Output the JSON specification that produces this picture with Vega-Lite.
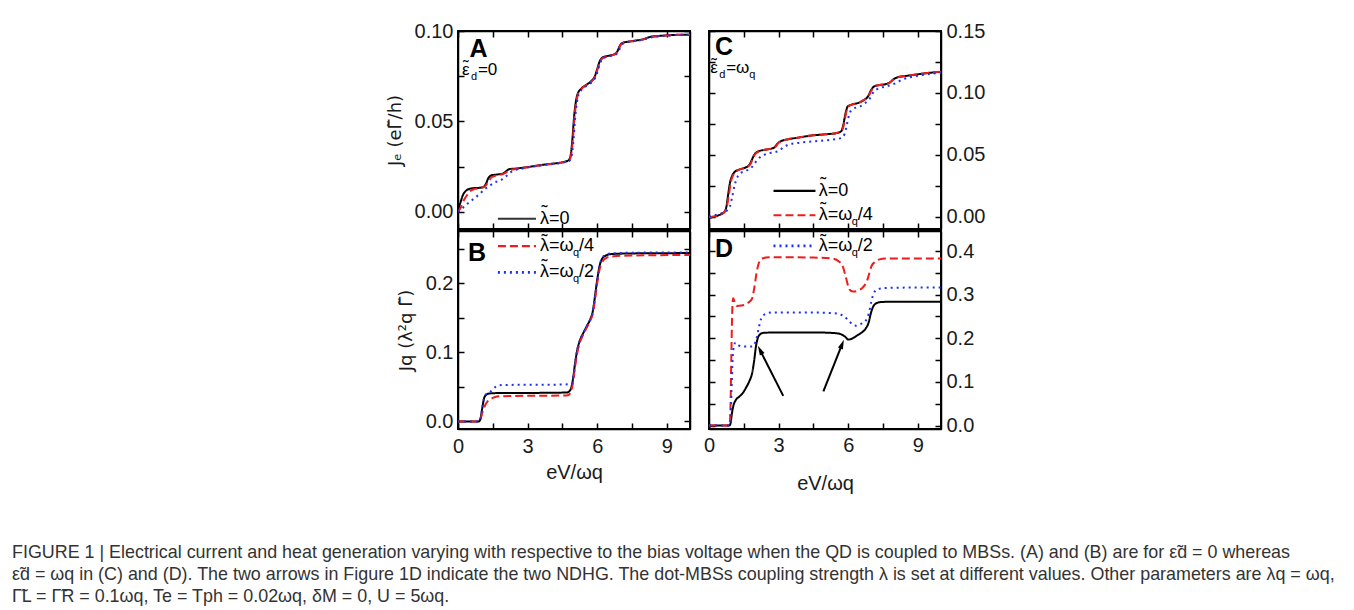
{
  "$schema": "https://vega.github.io/schema/vega-lite/v6.json",
  "padding": {"left": 12, "top": 20, "right": 0, "bottom": 0},
  "background": "white",
  "title": {
    "text": [
      "FIGURE 1 | Electrical current and heat generation varying with respective to the bias voltage when the QD is coupled to MBSs. (A) and (B) are for ε̃d = 0 whereas",
      "ε̃d = ωq in (C) and (D). The two arrows in Figure 1D indicate the two NDHG. The dot-MBSs coupling strength λ is set at different values. Other parameters are λq = ωq,",
      "Γ̃L = Γ̃R = 0.1ωq, Te = Tph = 0.02ωq, δM = 0, U = 5ωq."
    ],
    "orient": "bottom",
    "anchor": "start",
    "frame": "group",
    "font": "Liberation Sans",
    "fontSize": 17.9,
    "fontWeight": "normal",
    "color": "#333333",
    "lineHeight": 22,
    "offset": 50,
    "dx": -446
  },
  "datasets": {
    "one": [{}],
    "curves": [
      {"p":"A","s":"a","x":0,"y":0.001},{"p":"A","s":"a","x":0.1,"y":0.005},{"p":"A","s":"a","x":0.2,"y":0.009},{"p":"A","s":"a","x":0.35,"y":0.0118},{"p":"A","s":"a","x":0.5,"y":0.0128},{"p":"A","s":"a","x":0.7,"y":0.0132},{"p":"A","s":"a","x":0.95,"y":0.0134},{"p":"A","s":"a","x":1.1,"y":0.0138},{"p":"A","s":"a","x":1.2,"y":0.0155},{"p":"A","s":"a","x":1.32,"y":0.019},{"p":"A","s":"a","x":1.45,"y":0.0203},{"p":"A","s":"a","x":1.75,"y":0.0208},{"p":"A","s":"a","x":1.95,"y":0.0213},{"p":"A","s":"a","x":2.05,"y":0.0222},{"p":"A","s":"a","x":2.2,"y":0.0236},{"p":"A","s":"a","x":2.5,"y":0.024},{"p":"A","s":"a","x":3.0,"y":0.0248},{"p":"A","s":"a","x":3.5,"y":0.0258},{"p":"A","s":"a","x":4.0,"y":0.0266},{"p":"A","s":"a","x":4.5,"y":0.0275},{"p":"A","s":"a","x":4.76,"y":0.0285},{"p":"A","s":"a","x":4.85,"y":0.031},{"p":"A","s":"a","x":4.93,"y":0.04},{"p":"A","s":"a","x":5.0,"y":0.052},{"p":"A","s":"a","x":5.07,"y":0.06},{"p":"A","s":"a","x":5.15,"y":0.065},{"p":"A","s":"a","x":5.3,"y":0.068},{"p":"A","s":"a","x":5.5,"y":0.07},{"p":"A","s":"a","x":5.76,"y":0.0725},{"p":"A","s":"a","x":5.9,"y":0.075},{"p":"A","s":"a","x":6.0,"y":0.079},{"p":"A","s":"a","x":6.1,"y":0.083},{"p":"A","s":"a","x":6.25,"y":0.0855},{"p":"A","s":"a","x":6.45,"y":0.0862},{"p":"A","s":"a","x":6.75,"y":0.0872},{"p":"A","s":"a","x":6.88,"y":0.089},{"p":"A","s":"a","x":6.98,"y":0.092},{"p":"A","s":"a","x":7.1,"y":0.0935},{"p":"A","s":"a","x":7.3,"y":0.094},{"p":"A","s":"a","x":7.6,"y":0.0946},{"p":"A","s":"a","x":8.0,"y":0.0955},{"p":"A","s":"a","x":8.15,"y":0.0962},{"p":"A","s":"a","x":8.3,"y":0.0968},{"p":"A","s":"a","x":8.6,"y":0.0972},{"p":"A","s":"a","x":9.0,"y":0.0976},{"p":"A","s":"a","x":9.5,"y":0.0979},{"p":"A","s":"a","x":10,"y":0.098},
      {"p":"A","s":"b","x":0,"y":0},{"p":"A","s":"b","x":0.1,"y":0.002},{"p":"A","s":"b","x":0.25,"y":0.0065},{"p":"A","s":"b","x":0.4,"y":0.0095},{"p":"A","s":"b","x":0.55,"y":0.0118},{"p":"A","s":"b","x":0.75,"y":0.0128},{"p":"A","s":"b","x":0.95,"y":0.0132},{"p":"A","s":"b","x":1.15,"y":0.014},{"p":"A","s":"b","x":1.3,"y":0.0165},{"p":"A","s":"b","x":1.45,"y":0.0192},{"p":"A","s":"b","x":1.75,"y":0.0205},{"p":"A","s":"b","x":1.95,"y":0.021},{"p":"A","s":"b","x":2.1,"y":0.022},{"p":"A","s":"b","x":2.25,"y":0.0232},{"p":"A","s":"b","x":2.5,"y":0.0238},{"p":"A","s":"b","x":3.0,"y":0.0247},{"p":"A","s":"b","x":3.5,"y":0.0257},{"p":"A","s":"b","x":4.0,"y":0.0265},{"p":"A","s":"b","x":4.5,"y":0.0274},{"p":"A","s":"b","x":4.78,"y":0.0284},{"p":"A","s":"b","x":4.87,"y":0.031},{"p":"A","s":"b","x":4.95,"y":0.04},{"p":"A","s":"b","x":5.02,"y":0.052},{"p":"A","s":"b","x":5.09,"y":0.06},{"p":"A","s":"b","x":5.17,"y":0.065},{"p":"A","s":"b","x":5.3,"y":0.0678},{"p":"A","s":"b","x":5.5,"y":0.0698},{"p":"A","s":"b","x":5.78,"y":0.0724},{"p":"A","s":"b","x":5.92,"y":0.075},{"p":"A","s":"b","x":6.02,"y":0.079},{"p":"A","s":"b","x":6.12,"y":0.083},{"p":"A","s":"b","x":6.27,"y":0.0853},{"p":"A","s":"b","x":6.45,"y":0.086},{"p":"A","s":"b","x":6.75,"y":0.0871},{"p":"A","s":"b","x":6.9,"y":0.089},{"p":"A","s":"b","x":7.0,"y":0.092},{"p":"A","s":"b","x":7.12,"y":0.0934},{"p":"A","s":"b","x":7.3,"y":0.094},{"p":"A","s":"b","x":7.6,"y":0.0945},{"p":"A","s":"b","x":8.0,"y":0.0954},{"p":"A","s":"b","x":8.17,"y":0.0961},{"p":"A","s":"b","x":8.32,"y":0.0967},{"p":"A","s":"b","x":8.6,"y":0.0971},{"p":"A","s":"b","x":9.0,"y":0.0975},{"p":"A","s":"b","x":9.5,"y":0.0978},{"p":"A","s":"b","x":10,"y":0.098},
      {"p":"A","s":"c","x":0,"y":0},{"p":"A","s":"c","x":0.15,"y":0.0015},{"p":"A","s":"c","x":0.3,"y":0.0035},{"p":"A","s":"c","x":0.45,"y":0.005},{"p":"A","s":"c","x":0.6,"y":0.0065},{"p":"A","s":"c","x":0.75,"y":0.008},{"p":"A","s":"c","x":0.95,"y":0.0102},{"p":"A","s":"c","x":1.15,"y":0.0125},{"p":"A","s":"c","x":1.3,"y":0.014},{"p":"A","s":"c","x":1.45,"y":0.0153},{"p":"A","s":"c","x":1.65,"y":0.0167},{"p":"A","s":"c","x":1.9,"y":0.018},{"p":"A","s":"c","x":2.1,"y":0.02},{"p":"A","s":"c","x":2.25,"y":0.0218},{"p":"A","s":"c","x":2.45,"y":0.0232},{"p":"A","s":"c","x":2.7,"y":0.0238},{"p":"A","s":"c","x":3.0,"y":0.0246},{"p":"A","s":"c","x":3.5,"y":0.0256},{"p":"A","s":"c","x":4.0,"y":0.0264},{"p":"A","s":"c","x":4.5,"y":0.0273},{"p":"A","s":"c","x":4.8,"y":0.0283},{"p":"A","s":"c","x":4.9,"y":0.031},{"p":"A","s":"c","x":4.98,"y":0.04},{"p":"A","s":"c","x":5.05,"y":0.052},{"p":"A","s":"c","x":5.12,"y":0.06},{"p":"A","s":"c","x":5.2,"y":0.065},{"p":"A","s":"c","x":5.35,"y":0.0678},{"p":"A","s":"c","x":5.55,"y":0.0698},{"p":"A","s":"c","x":5.8,"y":0.0722},{"p":"A","s":"c","x":5.95,"y":0.075},{"p":"A","s":"c","x":6.05,"y":0.079},{"p":"A","s":"c","x":6.15,"y":0.083},{"p":"A","s":"c","x":6.3,"y":0.0852},{"p":"A","s":"c","x":6.5,"y":0.086},{"p":"A","s":"c","x":6.8,"y":0.087},{"p":"A","s":"c","x":6.93,"y":0.089},{"p":"A","s":"c","x":7.03,"y":0.092},{"p":"A","s":"c","x":7.15,"y":0.0933},{"p":"A","s":"c","x":7.35,"y":0.094},{"p":"A","s":"c","x":7.6,"y":0.0944},{"p":"A","s":"c","x":8.0,"y":0.0953},{"p":"A","s":"c","x":8.2,"y":0.096},{"p":"A","s":"c","x":8.35,"y":0.0966},{"p":"A","s":"c","x":8.6,"y":0.097},{"p":"A","s":"c","x":9.0,"y":0.0975},{"p":"A","s":"c","x":9.5,"y":0.0978},{"p":"A","s":"c","x":10,"y":0.098},

      {"p":"B","s":"a","x":0,"y":0},{"p":"B","s":"a","x":0.9,"y":0},{"p":"B","s":"a","x":0.97,"y":0.004},{"p":"B","s":"a","x":1.05,"y":0.02},{"p":"B","s":"a","x":1.12,"y":0.033},{"p":"B","s":"a","x":1.2,"y":0.038},{"p":"B","s":"a","x":1.35,"y":0.0405},{"p":"B","s":"a","x":1.6,"y":0.041},{"p":"B","s":"a","x":2.5,"y":0.0412},{"p":"B","s":"a","x":4.0,"y":0.0415},{"p":"B","s":"a","x":4.7,"y":0.042},{"p":"B","s":"a","x":4.85,"y":0.046},{"p":"B","s":"a","x":4.95,"y":0.06},{"p":"B","s":"a","x":5.05,"y":0.085},{"p":"B","s":"a","x":5.15,"y":0.105},{"p":"B","s":"a","x":5.25,"y":0.117},{"p":"B","s":"a","x":5.4,"y":0.128},{"p":"B","s":"a","x":5.55,"y":0.138},{"p":"B","s":"a","x":5.7,"y":0.148},{"p":"B","s":"a","x":5.8,"y":0.158},{"p":"B","s":"a","x":5.9,"y":0.18},{"p":"B","s":"a","x":6.0,"y":0.205},{"p":"B","s":"a","x":6.1,"y":0.225},{"p":"B","s":"a","x":6.2,"y":0.235},{"p":"B","s":"a","x":6.35,"y":0.24},{"p":"B","s":"a","x":6.6,"y":0.2425},{"p":"B","s":"a","x":7.5,"y":0.2435},{"p":"B","s":"a","x":10,"y":0.244},
      {"p":"B","s":"b","x":0,"y":0},{"p":"B","s":"b","x":0.9,"y":0},{"p":"B","s":"b","x":0.97,"y":0.003},{"p":"B","s":"b","x":1.05,"y":0.013},{"p":"B","s":"b","x":1.15,"y":0.022},{"p":"B","s":"b","x":1.3,"y":0.03},{"p":"B","s":"b","x":1.5,"y":0.034},{"p":"B","s":"b","x":1.75,"y":0.0363},{"p":"B","s":"b","x":2.5,"y":0.037},{"p":"B","s":"b","x":4.0,"y":0.0372},{"p":"B","s":"b","x":4.75,"y":0.038},{"p":"B","s":"b","x":4.85,"y":0.042},{"p":"B","s":"b","x":4.95,"y":0.055},{"p":"B","s":"b","x":5.05,"y":0.08},{"p":"B","s":"b","x":5.15,"y":0.101},{"p":"B","s":"b","x":5.25,"y":0.114},{"p":"B","s":"b","x":5.4,"y":0.126},{"p":"B","s":"b","x":5.55,"y":0.136},{"p":"B","s":"b","x":5.7,"y":0.146},{"p":"B","s":"b","x":5.8,"y":0.155},{"p":"B","s":"b","x":5.9,"y":0.175},{"p":"B","s":"b","x":6.0,"y":0.2},{"p":"B","s":"b","x":6.1,"y":0.22},{"p":"B","s":"b","x":6.2,"y":0.23},{"p":"B","s":"b","x":6.35,"y":0.236},{"p":"B","s":"b","x":6.6,"y":0.239},{"p":"B","s":"b","x":7.5,"y":0.2405},{"p":"B","s":"b","x":10,"y":0.2412},
      {"p":"B","s":"c","x":0,"y":0},{"p":"B","s":"c","x":0.9,"y":0},{"p":"B","s":"c","x":0.97,"y":0.004},{"p":"B","s":"c","x":1.05,"y":0.02},{"p":"B","s":"c","x":1.12,"y":0.033},{"p":"B","s":"c","x":1.2,"y":0.039},{"p":"B","s":"c","x":1.35,"y":0.042},{"p":"B","s":"c","x":1.5,"y":0.046},{"p":"B","s":"c","x":1.65,"y":0.051},{"p":"B","s":"c","x":1.8,"y":0.0525},{"p":"B","s":"c","x":2.5,"y":0.053},{"p":"B","s":"c","x":4.0,"y":0.0532},{"p":"B","s":"c","x":4.9,"y":0.054},{"p":"B","s":"c","x":4.95,"y":0.06},{"p":"B","s":"c","x":5.05,"y":0.085},{"p":"B","s":"c","x":5.15,"y":0.105},{"p":"B","s":"c","x":5.25,"y":0.117},{"p":"B","s":"c","x":5.4,"y":0.128},{"p":"B","s":"c","x":5.55,"y":0.138},{"p":"B","s":"c","x":5.7,"y":0.148},{"p":"B","s":"c","x":5.8,"y":0.158},{"p":"B","s":"c","x":5.9,"y":0.18},{"p":"B","s":"c","x":6.0,"y":0.205},{"p":"B","s":"c","x":6.1,"y":0.226},{"p":"B","s":"c","x":6.2,"y":0.236},{"p":"B","s":"c","x":6.35,"y":0.2415},{"p":"B","s":"c","x":6.6,"y":0.2435},{"p":"B","s":"c","x":7.5,"y":0.2445},{"p":"B","s":"c","x":10,"y":0.245},

      {"p":"C","s":"a","x":0,"y":-0.001},{"p":"C","s":"a","x":0.4,"y":0.001},{"p":"C","s":"a","x":0.65,"y":0.0035},{"p":"C","s":"a","x":0.75,"y":0.008},{"p":"C","s":"a","x":0.82,"y":0.017},{"p":"C","s":"a","x":0.9,"y":0.027},{"p":"C","s":"a","x":1.0,"y":0.033},{"p":"C","s":"a","x":1.1,"y":0.036},{"p":"C","s":"a","x":1.3,"y":0.038},{"p":"C","s":"a","x":1.55,"y":0.0395},{"p":"C","s":"a","x":1.75,"y":0.042},{"p":"C","s":"a","x":1.85,"y":0.046},{"p":"C","s":"a","x":1.95,"y":0.05},{"p":"C","s":"a","x":2.1,"y":0.0525},{"p":"C","s":"a","x":2.4,"y":0.054},{"p":"C","s":"a","x":2.7,"y":0.055},{"p":"C","s":"a","x":2.85,"y":0.0565},{"p":"C","s":"a","x":2.95,"y":0.059},{"p":"C","s":"a","x":3.1,"y":0.061},{"p":"C","s":"a","x":3.4,"y":0.0625},{"p":"C","s":"a","x":3.8,"y":0.0637},{"p":"C","s":"a","x":4.4,"y":0.0655},{"p":"C","s":"a","x":5.0,"y":0.0665},{"p":"C","s":"a","x":5.5,"y":0.0675},{"p":"C","s":"a","x":5.7,"y":0.069},{"p":"C","s":"a","x":5.8,"y":0.075},{"p":"C","s":"a","x":5.88,"y":0.083},{"p":"C","s":"a","x":5.98,"y":0.089},{"p":"C","s":"a","x":6.15,"y":0.0905},{"p":"C","s":"a","x":6.45,"y":0.092},{"p":"C","s":"a","x":6.7,"y":0.0945},{"p":"C","s":"a","x":6.85,"y":0.097},{"p":"C","s":"a","x":6.98,"y":0.102},{"p":"C","s":"a","x":7.1,"y":0.105},{"p":"C","s":"a","x":7.3,"y":0.1062},{"p":"C","s":"a","x":7.6,"y":0.107},{"p":"C","s":"a","x":7.8,"y":0.1085},{"p":"C","s":"a","x":7.95,"y":0.111},{"p":"C","s":"a","x":8.15,"y":0.1127},{"p":"C","s":"a","x":8.5,"y":0.1137},{"p":"C","s":"a","x":9.0,"y":0.115},{"p":"C","s":"a","x":9.5,"y":0.1162},{"p":"C","s":"a","x":10,"y":0.117},
      {"p":"C","s":"b","x":0,"y":-0.0005},{"p":"C","s":"b","x":0.4,"y":0.0012},{"p":"C","s":"b","x":0.68,"y":0.004},{"p":"C","s":"b","x":0.78,"y":0.009},{"p":"C","s":"b","x":0.86,"y":0.018},{"p":"C","s":"b","x":0.94,"y":0.028},{"p":"C","s":"b","x":1.03,"y":0.033},{"p":"C","s":"b","x":1.13,"y":0.036},{"p":"C","s":"b","x":1.3,"y":0.038},{"p":"C","s":"b","x":1.55,"y":0.0395},{"p":"C","s":"b","x":1.77,"y":0.042},{"p":"C","s":"b","x":1.87,"y":0.046},{"p":"C","s":"b","x":1.97,"y":0.05},{"p":"C","s":"b","x":2.12,"y":0.0525},{"p":"C","s":"b","x":2.4,"y":0.054},{"p":"C","s":"b","x":2.7,"y":0.055},{"p":"C","s":"b","x":2.87,"y":0.0565},{"p":"C","s":"b","x":2.97,"y":0.059},{"p":"C","s":"b","x":3.12,"y":0.061},{"p":"C","s":"b","x":3.4,"y":0.0625},{"p":"C","s":"b","x":3.8,"y":0.0637},{"p":"C","s":"b","x":4.4,"y":0.0655},{"p":"C","s":"b","x":5.0,"y":0.0665},{"p":"C","s":"b","x":5.5,"y":0.0675},{"p":"C","s":"b","x":5.72,"y":0.069},{"p":"C","s":"b","x":5.82,"y":0.075},{"p":"C","s":"b","x":5.9,"y":0.083},{"p":"C","s":"b","x":6.0,"y":0.089},{"p":"C","s":"b","x":6.15,"y":0.0905},{"p":"C","s":"b","x":6.45,"y":0.092},{"p":"C","s":"b","x":6.7,"y":0.0945},{"p":"C","s":"b","x":6.87,"y":0.097},{"p":"C","s":"b","x":7.0,"y":0.102},{"p":"C","s":"b","x":7.12,"y":0.105},{"p":"C","s":"b","x":7.3,"y":0.1062},{"p":"C","s":"b","x":7.6,"y":0.107},{"p":"C","s":"b","x":7.8,"y":0.1085},{"p":"C","s":"b","x":7.97,"y":0.111},{"p":"C","s":"b","x":8.17,"y":0.1127},{"p":"C","s":"b","x":8.5,"y":0.1137},{"p":"C","s":"b","x":9.0,"y":0.115},{"p":"C","s":"b","x":9.5,"y":0.1162},{"p":"C","s":"b","x":10,"y":0.117},
      {"p":"C","s":"c","x":0,"y":0},{"p":"C","s":"c","x":0.4,"y":0.002},{"p":"C","s":"c","x":0.75,"y":0.0045},{"p":"C","s":"c","x":0.9,"y":0.008},{"p":"C","s":"c","x":1.0,"y":0.016},{"p":"C","s":"c","x":1.1,"y":0.025},{"p":"C","s":"c","x":1.2,"y":0.031},{"p":"C","s":"c","x":1.35,"y":0.035},{"p":"C","s":"c","x":1.6,"y":0.037},{"p":"C","s":"c","x":1.85,"y":0.04},{"p":"C","s":"c","x":2.05,"y":0.045},{"p":"C","s":"c","x":2.2,"y":0.048},{"p":"C","s":"c","x":2.45,"y":0.0505},{"p":"C","s":"c","x":2.75,"y":0.052},{"p":"C","s":"c","x":3.0,"y":0.053},{"p":"C","s":"c","x":3.2,"y":0.056},{"p":"C","s":"c","x":3.4,"y":0.058},{"p":"C","s":"c","x":3.8,"y":0.0595},{"p":"C","s":"c","x":4.5,"y":0.0608},{"p":"C","s":"c","x":5.2,"y":0.062},{"p":"C","s":"c","x":5.7,"y":0.0635},{"p":"C","s":"c","x":5.85,"y":0.067},{"p":"C","s":"c","x":5.95,"y":0.075},{"p":"C","s":"c","x":6.05,"y":0.083},{"p":"C","s":"c","x":6.2,"y":0.087},{"p":"C","s":"c","x":6.5,"y":0.089},{"p":"C","s":"c","x":6.75,"y":0.092},{"p":"C","s":"c","x":6.95,"y":0.096},{"p":"C","s":"c","x":7.1,"y":0.101},{"p":"C","s":"c","x":7.3,"y":0.1035},{"p":"C","s":"c","x":7.7,"y":0.1055},{"p":"C","s":"c","x":8.0,"y":0.1075},{"p":"C","s":"c","x":8.3,"y":0.1105},{"p":"C","s":"c","x":8.7,"y":0.1128},{"p":"C","s":"c","x":9.2,"y":0.1145},{"p":"C","s":"c","x":10,"y":0.1162},

      {"p":"D","s":"a","x":0,"y":0},{"p":"D","s":"a","x":0.88,"y":0},{"p":"D","s":"a","x":0.93,"y":0.005},{"p":"D","s":"a","x":0.98,"y":0.025},{"p":"D","s":"a","x":1.05,"y":0.045},{"p":"D","s":"a","x":1.15,"y":0.058},{"p":"D","s":"a","x":1.3,"y":0.066},{"p":"D","s":"a","x":1.45,"y":0.074},{"p":"D","s":"a","x":1.6,"y":0.087},{"p":"D","s":"a","x":1.75,"y":0.103},{"p":"D","s":"a","x":1.85,"y":0.118},{"p":"D","s":"a","x":1.95,"y":0.15},{"p":"D","s":"a","x":2.02,"y":0.18},{"p":"D","s":"a","x":2.1,"y":0.2},{"p":"D","s":"a","x":2.2,"y":0.209},{"p":"D","s":"a","x":2.35,"y":0.2125},{"p":"D","s":"a","x":3.0,"y":0.2135},{"p":"D","s":"a","x":4.5,"y":0.2135},{"p":"D","s":"a","x":5.4,"y":0.212},{"p":"D","s":"a","x":5.7,"y":0.209},{"p":"D","s":"a","x":5.9,"y":0.202},{"p":"D","s":"a","x":6.0,"y":0.197},{"p":"D","s":"a","x":6.15,"y":0.199},{"p":"D","s":"a","x":6.4,"y":0.207},{"p":"D","s":"a","x":6.6,"y":0.214},{"p":"D","s":"a","x":6.75,"y":0.222},{"p":"D","s":"a","x":6.88,"y":0.236},{"p":"D","s":"a","x":6.98,"y":0.258},{"p":"D","s":"a","x":7.08,"y":0.273},{"p":"D","s":"a","x":7.2,"y":0.28},{"p":"D","s":"a","x":7.4,"y":0.283},{"p":"D","s":"a","x":8,"y":0.284},{"p":"D","s":"a","x":10,"y":0.284},
      {"p":"D","s":"b","x":0,"y":0},{"p":"D","s":"b","x":0.88,"y":0},{"p":"D","s":"b","x":0.92,"y":0.03},{"p":"D","s":"b","x":0.96,"y":0.15},{"p":"D","s":"b","x":1.0,"y":0.26},{"p":"D","s":"b","x":1.04,"y":0.292},{"p":"D","s":"b","x":1.1,"y":0.285},{"p":"D","s":"b","x":1.2,"y":0.274},{"p":"D","s":"b","x":1.4,"y":0.275},{"p":"D","s":"b","x":1.7,"y":0.282},{"p":"D","s":"b","x":1.85,"y":0.29},{"p":"D","s":"b","x":1.95,"y":0.315},{"p":"D","s":"b","x":2.05,"y":0.35},{"p":"D","s":"b","x":2.15,"y":0.373},{"p":"D","s":"b","x":2.3,"y":0.383},{"p":"D","s":"b","x":2.6,"y":0.386},{"p":"D","s":"b","x":4.5,"y":0.385},{"p":"D","s":"b","x":5.3,"y":0.383},{"p":"D","s":"b","x":5.6,"y":0.376},{"p":"D","s":"b","x":5.75,"y":0.367},{"p":"D","s":"b","x":5.9,"y":0.34},{"p":"D","s":"b","x":6.05,"y":0.312},{"p":"D","s":"b","x":6.2,"y":0.307},{"p":"D","s":"b","x":6.45,"y":0.31},{"p":"D","s":"b","x":6.65,"y":0.318},{"p":"D","s":"b","x":6.8,"y":0.33},{"p":"D","s":"b","x":6.9,"y":0.347},{"p":"D","s":"b","x":7.0,"y":0.365},{"p":"D","s":"b","x":7.15,"y":0.375},{"p":"D","s":"b","x":7.35,"y":0.381},{"p":"D","s":"b","x":7.6,"y":0.383},{"p":"D","s":"b","x":10,"y":0.383},
      {"p":"D","s":"c","x":0,"y":0},{"p":"D","s":"c","x":0.88,"y":0},{"p":"D","s":"c","x":0.93,"y":0.01},{"p":"D","s":"c","x":0.97,"y":0.08},{"p":"D","s":"c","x":1.02,"y":0.15},{"p":"D","s":"c","x":1.08,"y":0.185},{"p":"D","s":"c","x":1.15,"y":0.19},{"p":"D","s":"c","x":1.25,"y":0.184},{"p":"D","s":"c","x":1.5,"y":0.181},{"p":"D","s":"c","x":1.85,"y":0.181},{"p":"D","s":"c","x":1.95,"y":0.185},{"p":"D","s":"c","x":2.05,"y":0.2},{"p":"D","s":"c","x":2.15,"y":0.225},{"p":"D","s":"c","x":2.25,"y":0.245},{"p":"D","s":"c","x":2.4,"y":0.255},{"p":"D","s":"c","x":2.7,"y":0.259},{"p":"D","s":"c","x":4.5,"y":0.259},{"p":"D","s":"c","x":5.5,"y":0.257},{"p":"D","s":"c","x":5.8,"y":0.251},{"p":"D","s":"c","x":6.0,"y":0.242},{"p":"D","s":"c","x":6.2,"y":0.231},{"p":"D","s":"c","x":6.35,"y":0.229},{"p":"D","s":"c","x":6.55,"y":0.233},{"p":"D","s":"c","x":6.75,"y":0.24},{"p":"D","s":"c","x":6.88,"y":0.255},{"p":"D","s":"c","x":7.0,"y":0.285},{"p":"D","s":"c","x":7.1,"y":0.303},{"p":"D","s":"c","x":7.25,"y":0.312},{"p":"D","s":"c","x":7.5,"y":0.315},{"p":"D","s":"c","x":8,"y":0.316},{"p":"D","s":"c","x":10,"y":0.3165}
    ]
  },
  "hconcat": [
    {
      "spacing": -4,
      "vconcat": [
        {
          "width": 232, "height": 198,
          "resolve": {"axis": {"x": "independent", "y": "independent"}},
          "layer": [
            {
              "data": {"name": "curves"},
              "transform": [{"filter": "datum.p === 'A'"}],
              "mark": {"type": "line", "interpolate": "monotone", "clip": true},
              "encoding": {
                "x": {"field": "x", "type": "quantitative", "scale": {"domain": [0, 10], "nice": false, "zero": false},
                      "axis": {"orient": "bottom", "values": [0, 1.5, 3, 4.5, 6, 7.5, 9], "labels": false, "title": null}},
                "y": {"field": "y", "type": "quantitative", "scale": {"domain": [-0.0094, 0.1], "nice": false, "zero": false},
                      "axis": {"orient": "left", "values": [0, 0.025, 0.05, 0.075, 0.1], "format": ".2f", "labelExpr": "abs(round(datum.value*1000)%50) < 1 ? datum.label : ''", "title": "Jₑ (eΓ̃/h)", "titleFont": "DejaVu Sans", "titleFontSize": 18, "titlePadding": 10}},
                "color": {"field": "s", "type": "nominal", "scale": {"domain": ["a", "b", "c"], "range": ["#000000", "#ee1c1c", "#1c30f5"]}, "legend": null},
                "strokeDash": {"field": "s", "type": "nominal", "scale": {"domain": ["a", "b", "c"], "range": [[1, 0], [8, 4], [2, 4]]}, "legend": null},
                "strokeWidth": {"field": "s", "type": "nominal", "scale": {"domain": ["a", "b", "c"], "range": [2, 2, 2.6]}, "legend": null}
              }
            },
            {
              "data": {"name": "curves"},
              "transform": [{"filter": "datum.p === 'A'"}],
              "mark": {"type": "point", "opacity": 0, "size": 1},
              "encoding": {
                "x": {"field": "x", "type": "quantitative", "scale": {"domain": [0, 10], "nice": false, "zero": false},
                      "axis": {"orient": "top", "values": [0, 1.5, 3, 4.5, 6, 7.5, 9], "labels": false, "title": null}},
                "y": {"field": "y", "type": "quantitative", "scale": {"domain": [-0.0094, 0.1], "nice": false, "zero": false},
                      "axis": {"orient": "right", "values": [0, 0.025, 0.05, 0.075, 0.1], "labels": false, "title": null}}
              }
            },
            {"data": {"name": "one"}, "mark": {"type": "text", "align": "left", "baseline": "middle", "fontSize": 25, "fontWeight": "bold", "font": "Liberation Sans"},
             "encoding": {"x": {"datum": 0.5, "type": "quantitative", "axis": null}, "y": {"datum": 0.0898, "type": "quantitative", "axis": null}, "text": {"value": "A"}}},
            {"data": {"name": "one"}, "mark": {"type": "text", "align": "left", "baseline": "middle", "fontSize": 17, "font": "Liberation Sans"},
             "encoding": {"x": {"datum": 0.17, "type": "quantitative", "axis": null}, "y": {"datum": 0.0785, "type": "quantitative", "axis": null}, "text": {"value": "ε"}}},
            {"data": {"name": "one"}, "mark": {"type": "text", "align": "left", "baseline": "middle", "fontSize": 17, "font": "Liberation Sans", "dx": 1, "dy": -3},
             "encoding": {"x": {"datum": 0.17, "type": "quantitative", "axis": null}, "y": {"datum": 0.0785, "type": "quantitative", "axis": null}, "text": {"value": "˜"}}},
            {"data": {"name": "one"}, "mark": {"type": "text", "align": "left", "baseline": "middle", "fontSize": 11, "font": "Liberation Sans", "dx": 9, "dy": 7},
             "encoding": {"x": {"datum": 0.17, "type": "quantitative", "axis": null}, "y": {"datum": 0.0785, "type": "quantitative", "axis": null}, "text": {"value": "d"}}},
            {"data": {"name": "one"}, "mark": {"type": "text", "align": "left", "baseline": "middle", "fontSize": 17, "font": "Liberation Sans", "dx": 16},
             "encoding": {"x": {"datum": 0.17, "type": "quantitative", "axis": null}, "y": {"datum": 0.0785, "type": "quantitative", "axis": null}, "text": {"value": "=0"}}},
            {"data": {"name": "one"}, "mark": {"type": "rule", "color": "#333333", "strokeWidth": 2},
             "encoding": {"x": {"datum": 1.72, "type": "quantitative", "axis": null}, "x2": {"datum": 3.36}, "y": {"datum": -0.0037, "type": "quantitative", "axis": null}}},
            {"data": {"name": "one"}, "mark": {"type": "text", "align": "left", "baseline": "middle", "fontSize": 18, "font": "Liberation Sans"},
             "encoding": {"x": {"datum": 3.53, "type": "quantitative", "axis": null}, "y": {"datum": -0.0037, "type": "quantitative", "axis": null}, "text": {"value": "λ=0"}}},
            {"data": {"name": "one"}, "mark": {"type": "text", "align": "left", "baseline": "middle", "fontSize": 18, "font": "Liberation Sans", "dx": 1.5, "dy": -5.5},
             "encoding": {"x": {"datum": 3.53, "type": "quantitative", "axis": null}, "y": {"datum": -0.0037, "type": "quantitative", "axis": null}, "text": {"value": "˜"}}}
          ]
        },
        {
          "width": 232, "height": 198,
          "resolve": {"axis": {"x": "independent", "y": "independent"}},
          "layer": [
            {
              "data": {"name": "curves"},
              "transform": [{"filter": "datum.p === 'B'"}],
              "mark": {"type": "line", "interpolate": "monotone", "clip": true},
              "encoding": {
                "x": {"field": "x", "type": "quantitative", "scale": {"domain": [0, 10], "nice": false, "zero": false},
                      "axis": {"orient": "bottom", "values": [0, 1.5, 3, 4.5, 6, 7.5, 9], "format": "d", "labelPadding": 13, "labelExpr": "datum.value % 3 === 0 ? datum.label : ''", "title": "eV/ωq", "titlePadding": 6}},
                "y": {"field": "y", "type": "quantitative", "scale": {"domain": [-0.011, 0.276], "nice": false, "zero": false},
                      "axis": {"orient": "left", "values": [0, 0.05, 0.1, 0.15, 0.2, 0.25], "format": ".1f", "labelExpr": "abs(round(datum.value*100)%10) < 1 ? datum.label : ''", "title": "Jq (λ²q Γ̃)", "titleFont": "DejaVu Sans", "titleFontSize": 18, "titlePadding": 10}},
                "color": {"field": "s", "type": "nominal", "scale": {"domain": ["a", "b", "c"], "range": ["#000000", "#ee1c1c", "#1c30f5"]}, "legend": null},
                "strokeDash": {"field": "s", "type": "nominal", "scale": {"domain": ["a", "b", "c"], "range": [[1, 0], [8, 4], [2, 4]]}, "legend": null},
                "strokeWidth": {"field": "s", "type": "nominal", "scale": {"domain": ["a", "b", "c"], "range": [2, 2, 2.6]}, "legend": null}
              }
            },
            {
              "data": {"name": "curves"},
              "transform": [{"filter": "datum.p === 'B'"}],
              "mark": {"type": "point", "opacity": 0, "size": 1},
              "encoding": {
                "x": {"field": "x", "type": "quantitative", "scale": {"domain": [0, 10], "nice": false, "zero": false},
                      "axis": {"orient": "top", "values": [0, 1.5, 3, 4.5, 6, 7.5, 9], "labels": false, "title": null}},
                "y": {"field": "y", "type": "quantitative", "scale": {"domain": [-0.011, 0.276], "nice": false, "zero": false},
                      "axis": {"orient": "right", "values": [0, 0.05, 0.1, 0.15, 0.2, 0.25], "labels": false, "title": null}}
              }
            },
            {"data": {"name": "one"}, "mark": {"type": "text", "align": "left", "baseline": "middle", "fontSize": 25, "fontWeight": "bold", "font": "Liberation Sans"},
             "encoding": {"x": {"datum": 0.43, "type": "quantitative", "axis": null}, "y": {"datum": 0.244, "type": "quantitative", "axis": null}, "text": {"value": "B"}}},
            {"data": {"name": "one"}, "mark": {"type": "rule", "color": "#ee1c1c", "strokeWidth": 2.2, "strokeDash": [8, 4]},
             "encoding": {"x": {"datum": 1.72, "type": "quantitative", "axis": null}, "x2": {"datum": 3.36}, "y": {"datum": 0.254, "type": "quantitative", "axis": null}}},
            {"data": {"name": "one"}, "mark": {"type": "rule", "color": "#1c30f5", "strokeWidth": 2.6, "strokeDash": [2, 4]},
             "encoding": {"x": {"datum": 1.72, "type": "quantitative", "axis": null}, "x2": {"datum": 3.36}, "y": {"datum": 0.216, "type": "quantitative", "axis": null}}},
            {"data": {"name": "one"}, "mark": {"type": "text", "align": "left", "baseline": "middle", "fontSize": 18, "font": "Liberation Sans"},
             "encoding": {"x": {"datum": 3.53, "type": "quantitative", "axis": null}, "y": {"datum": 0.254, "type": "quantitative", "axis": null}, "text": {"value": "λ=ω"}}},
            {"data": {"name": "one"}, "mark": {"type": "text", "align": "left", "baseline": "middle", "fontSize": 18, "font": "Liberation Sans", "dx": 1.5, "dy": -4},
             "encoding": {"x": {"datum": 3.53, "type": "quantitative", "axis": null}, "y": {"datum": 0.254, "type": "quantitative", "axis": null}, "text": {"value": "˜"}}},
            {"data": {"name": "one"}, "mark": {"type": "text", "align": "left", "baseline": "middle", "fontSize": 11, "font": "Liberation Sans", "dx": 33, "dy": 7},
             "encoding": {"x": {"datum": 3.53, "type": "quantitative", "axis": null}, "y": {"datum": 0.254, "type": "quantitative", "axis": null}, "text": {"value": "q"}}},
            {"data": {"name": "one"}, "mark": {"type": "text", "align": "left", "baseline": "middle", "fontSize": 18, "font": "Liberation Sans", "dx": 39},
             "encoding": {"x": {"datum": 3.53, "type": "quantitative", "axis": null}, "y": {"datum": 0.254, "type": "quantitative", "axis": null}, "text": {"value": "/4"}}},
            {"data": {"name": "one"}, "mark": {"type": "text", "align": "left", "baseline": "middle", "fontSize": 18, "font": "Liberation Sans"},
             "encoding": {"x": {"datum": 3.53, "type": "quantitative", "axis": null}, "y": {"datum": 0.216, "type": "quantitative", "axis": null}, "text": {"value": "λ=ω"}}},
            {"data": {"name": "one"}, "mark": {"type": "text", "align": "left", "baseline": "middle", "fontSize": 18, "font": "Liberation Sans", "dx": 1.5, "dy": -5.5},
             "encoding": {"x": {"datum": 3.53, "type": "quantitative", "axis": null}, "y": {"datum": 0.216, "type": "quantitative", "axis": null}, "text": {"value": "˜"}}},
            {"data": {"name": "one"}, "mark": {"type": "text", "align": "left", "baseline": "middle", "fontSize": 11, "font": "Liberation Sans", "dx": 33, "dy": 7},
             "encoding": {"x": {"datum": 3.53, "type": "quantitative", "axis": null}, "y": {"datum": 0.216, "type": "quantitative", "axis": null}, "text": {"value": "q"}}},
            {"data": {"name": "one"}, "mark": {"type": "text", "align": "left", "baseline": "middle", "fontSize": 18, "font": "Liberation Sans", "dx": 39},
             "encoding": {"x": {"datum": 3.53, "type": "quantitative", "axis": null}, "y": {"datum": 0.216, "type": "quantitative", "axis": null}, "text": {"value": "/2"}}}
          ]
        }
      ]
    },
    {
      "spacing": -4,
      "vconcat": [
        {
          "width": 232, "height": 198,
          "resolve": {"axis": {"x": "independent", "y": "independent"}},
          "layer": [
            {
              "data": {"name": "curves"},
              "transform": [{"filter": "datum.p === 'C'"}],
              "mark": {"type": "line", "interpolate": "monotone", "clip": true},
              "encoding": {
                "x": {"field": "x", "type": "quantitative", "scale": {"domain": [0, 10], "nice": false, "zero": false},
                      "axis": {"orient": "bottom", "values": [0, 1.5, 3, 4.5, 6, 7.5, 9], "labels": false, "title": null}},
                "y": {"field": "y", "type": "quantitative", "scale": {"domain": [-0.01, 0.15], "nice": false, "zero": false},
                      "axis": {"orient": "right", "values": [0, 0.025, 0.05, 0.075, 0.1, 0.125, 0.15], "format": ".2f", "labelExpr": "abs(round(datum.value*1000)%50) < 1 ? datum.label : ''", "title": null}},
                "color": {"field": "s", "type": "nominal", "scale": {"domain": ["a", "b", "c"], "range": ["#000000", "#ee1c1c", "#1c30f5"]}, "legend": null},
                "strokeDash": {"field": "s", "type": "nominal", "scale": {"domain": ["a", "b", "c"], "range": [[1, 0], [8, 4], [2, 4]]}, "legend": null},
                "strokeWidth": {"field": "s", "type": "nominal", "scale": {"domain": ["a", "b", "c"], "range": [2, 2, 2.6]}, "legend": null}
              }
            },
            {
              "data": {"name": "curves"},
              "transform": [{"filter": "datum.p === 'C'"}],
              "mark": {"type": "point", "opacity": 0, "size": 1},
              "encoding": {
                "x": {"field": "x", "type": "quantitative", "scale": {"domain": [0, 10], "nice": false, "zero": false},
                      "axis": {"orient": "top", "values": [0, 1.5, 3, 4.5, 6, 7.5, 9], "labels": false, "title": null}},
                "y": {"field": "y", "type": "quantitative", "scale": {"domain": [-0.01, 0.15], "nice": false, "zero": false},
                      "axis": {"orient": "left", "values": [0, 0.025, 0.05, 0.075, 0.1, 0.125, 0.15], "labels": false, "title": null}}
              }
            },
            {"data": {"name": "one"}, "mark": {"type": "text", "align": "left", "baseline": "middle", "fontSize": 25, "fontWeight": "bold", "font": "Liberation Sans"},
             "encoding": {"x": {"datum": 0.26, "type": "quantitative", "axis": null}, "y": {"datum": 0.137, "type": "quantitative", "axis": null}, "text": {"value": "C"}}},
            {"data": {"name": "one"}, "mark": {"type": "text", "align": "left", "baseline": "middle", "fontSize": 17, "font": "Liberation Sans"},
             "encoding": {"x": {"datum": 0.05, "type": "quantitative", "axis": null}, "y": {"datum": 0.12, "type": "quantitative", "axis": null}, "text": {"value": "ε"}}},
            {"data": {"name": "one"}, "mark": {"type": "text", "align": "left", "baseline": "middle", "fontSize": 17, "font": "Liberation Sans", "dx": 1, "dy": -3},
             "encoding": {"x": {"datum": 0.05, "type": "quantitative", "axis": null}, "y": {"datum": 0.12, "type": "quantitative", "axis": null}, "text": {"value": "˜"}}},
            {"data": {"name": "one"}, "mark": {"type": "text", "align": "left", "baseline": "middle", "fontSize": 11, "font": "Liberation Sans", "dx": 9, "dy": 7},
             "encoding": {"x": {"datum": 0.05, "type": "quantitative", "axis": null}, "y": {"datum": 0.12, "type": "quantitative", "axis": null}, "text": {"value": "d"}}},
            {"data": {"name": "one"}, "mark": {"type": "text", "align": "left", "baseline": "middle", "fontSize": 17, "font": "Liberation Sans", "dx": 16},
             "encoding": {"x": {"datum": 0.05, "type": "quantitative", "axis": null}, "y": {"datum": 0.12, "type": "quantitative", "axis": null}, "text": {"value": "=ω"}}},
            {"data": {"name": "one"}, "mark": {"type": "text", "align": "left", "baseline": "middle", "fontSize": 11, "font": "Liberation Sans", "dx": 39, "dy": 7},
             "encoding": {"x": {"datum": 0.05, "type": "quantitative", "axis": null}, "y": {"datum": 0.12, "type": "quantitative", "axis": null}, "text": {"value": "q"}}},
            {"data": {"name": "one"}, "mark": {"type": "rule", "color": "#000000", "strokeWidth": 2.2},
             "encoding": {"x": {"datum": 2.78, "type": "quantitative", "axis": null}, "x2": {"datum": 4.59}, "y": {"datum": 0.0208, "type": "quantitative", "axis": null}}},
            {"data": {"name": "one"}, "mark": {"type": "rule", "color": "#ee1c1c", "strokeWidth": 2, "strokeDash": [8, 4]},
             "encoding": {"x": {"datum": 2.78, "type": "quantitative", "axis": null}, "x2": {"datum": 4.59}, "y": {"datum": 0.0011, "type": "quantitative", "axis": null}}},
            {"data": {"name": "one"}, "mark": {"type": "text", "align": "left", "baseline": "middle", "fontSize": 18, "font": "Liberation Sans"},
             "encoding": {"x": {"datum": 4.73, "type": "quantitative", "axis": null}, "y": {"datum": 0.0208, "type": "quantitative", "axis": null}, "text": {"value": "λ=0"}}},
            {"data": {"name": "one"}, "mark": {"type": "text", "align": "left", "baseline": "middle", "fontSize": 18, "font": "Liberation Sans", "dx": 1.5, "dy": -5.5},
             "encoding": {"x": {"datum": 4.73, "type": "quantitative", "axis": null}, "y": {"datum": 0.0208, "type": "quantitative", "axis": null}, "text": {"value": "˜"}}},
            {"data": {"name": "one"}, "mark": {"type": "text", "align": "left", "baseline": "middle", "fontSize": 18, "font": "Liberation Sans"},
             "encoding": {"x": {"datum": 4.73, "type": "quantitative", "axis": null}, "y": {"datum": 0.0011, "type": "quantitative", "axis": null}, "text": {"value": "λ=ω"}}},
            {"data": {"name": "one"}, "mark": {"type": "text", "align": "left", "baseline": "middle", "fontSize": 18, "font": "Liberation Sans", "dx": 1.5, "dy": -5.5},
             "encoding": {"x": {"datum": 4.73, "type": "quantitative", "axis": null}, "y": {"datum": 0.0011, "type": "quantitative", "axis": null}, "text": {"value": "˜"}}},
            {"data": {"name": "one"}, "mark": {"type": "text", "align": "left", "baseline": "middle", "fontSize": 11, "font": "Liberation Sans", "dx": 33, "dy": 7},
             "encoding": {"x": {"datum": 4.73, "type": "quantitative", "axis": null}, "y": {"datum": 0.0011, "type": "quantitative", "axis": null}, "text": {"value": "q"}}},
            {"data": {"name": "one"}, "mark": {"type": "text", "align": "left", "baseline": "middle", "fontSize": 18, "font": "Liberation Sans", "dx": 39},
             "encoding": {"x": {"datum": 4.73, "type": "quantitative", "axis": null}, "y": {"datum": 0.0011, "type": "quantitative", "axis": null}, "text": {"value": "/4"}}}
          ]
        },
        {
          "width": 232, "height": 198,
          "resolve": {"axis": {"x": "independent", "y": "independent"}},
          "layer": [
            {
              "data": {"name": "curves"},
              "transform": [{"filter": "datum.p === 'D'"}],
              "mark": {"type": "line", "interpolate": "monotone", "clip": true},
              "encoding": {
                "x": {"field": "x", "type": "quantitative", "scale": {"domain": [0, 10], "nice": false, "zero": false},
                      "axis": {"orient": "bottom", "values": [0, 1.5, 3, 4.5, 6, 7.5, 9], "format": "d", "labelPadding": 12, "labelExpr": "datum.value % 3 === 0 ? datum.label : ''", "title": "eV/ωq", "titlePadding": 18}},
                "y": {"field": "y", "type": "quantitative", "scale": {"domain": [-0.008, 0.446], "nice": false, "zero": false},
                      "axis": {"orient": "right", "values": [0, 0.05, 0.1, 0.15, 0.2, 0.25, 0.3, 0.35, 0.4], "format": ".1f", "labelExpr": "abs(round(datum.value*100)%10) < 1 ? datum.label : ''", "title": null}},
                "color": {"field": "s", "type": "nominal", "scale": {"domain": ["a", "b", "c"], "range": ["#000000", "#ee1c1c", "#1c30f5"]}, "legend": null},
                "strokeDash": {"field": "s", "type": "nominal", "scale": {"domain": ["a", "b", "c"], "range": [[1, 0], [8, 4], [2, 4]]}, "legend": null},
                "strokeWidth": {"field": "s", "type": "nominal", "scale": {"domain": ["a", "b", "c"], "range": [2, 2.2, 2.6]}, "legend": null}
              }
            },
            {
              "data": {"name": "curves"},
              "transform": [{"filter": "datum.p === 'D'"}],
              "mark": {"type": "point", "opacity": 0, "size": 1},
              "encoding": {
                "x": {"field": "x", "type": "quantitative", "scale": {"domain": [0, 10], "nice": false, "zero": false},
                      "axis": {"orient": "top", "values": [0, 1.5, 3, 4.5, 6, 7.5, 9], "labels": false, "title": null}},
                "y": {"field": "y", "type": "quantitative", "scale": {"domain": [-0.008, 0.446], "nice": false, "zero": false},
                      "axis": {"orient": "left", "values": [0, 0.05, 0.1, 0.15, 0.2, 0.25, 0.3, 0.35, 0.4], "labels": false, "title": null}}
              }
            },
            {"data": {"name": "one"}, "mark": {"type": "text", "align": "left", "baseline": "middle", "fontSize": 25, "fontWeight": "bold", "font": "Liberation Sans"},
             "encoding": {"x": {"datum": 0.26, "type": "quantitative", "axis": null}, "y": {"datum": 0.404, "type": "quantitative", "axis": null}, "text": {"value": "D"}}},
            {"data": {"name": "one"}, "mark": {"type": "rule", "color": "#1c30f5", "strokeWidth": 2.6, "strokeDash": [2, 4]},
             "encoding": {"x": {"datum": 2.78, "type": "quantitative", "axis": null}, "x2": {"datum": 4.59}, "y": {"datum": 0.412, "type": "quantitative", "axis": null}}},
            {"data": {"name": "one"}, "mark": {"type": "text", "align": "left", "baseline": "middle", "fontSize": 18, "font": "Liberation Sans"},
             "encoding": {"x": {"datum": 4.73, "type": "quantitative", "axis": null}, "y": {"datum": 0.412, "type": "quantitative", "axis": null}, "text": {"value": "λ=ω"}}},
            {"data": {"name": "one"}, "mark": {"type": "text", "align": "left", "baseline": "middle", "fontSize": 18, "font": "Liberation Sans", "dx": 1.5, "dy": -4},
             "encoding": {"x": {"datum": 4.73, "type": "quantitative", "axis": null}, "y": {"datum": 0.412, "type": "quantitative", "axis": null}, "text": {"value": "˜"}}},
            {"data": {"name": "one"}, "mark": {"type": "text", "align": "left", "baseline": "middle", "fontSize": 11, "font": "Liberation Sans", "dx": 33, "dy": 7},
             "encoding": {"x": {"datum": 4.73, "type": "quantitative", "axis": null}, "y": {"datum": 0.412, "type": "quantitative", "axis": null}, "text": {"value": "q"}}},
            {"data": {"name": "one"}, "mark": {"type": "text", "align": "left", "baseline": "middle", "fontSize": 18, "font": "Liberation Sans", "dx": 39},
             "encoding": {"x": {"datum": 4.73, "type": "quantitative", "axis": null}, "y": {"datum": 0.412, "type": "quantitative", "axis": null}, "text": {"value": "/2"}}},
            {"data": {"name": "one"}, "mark": {"type": "rule", "color": "#000000", "strokeWidth": 2},
             "encoding": {"x": {"datum": 3.2, "type": "quantitative", "axis": null}, "x2": {"datum": 2.2}, "y": {"datum": 0.068, "type": "quantitative", "axis": null}, "y2": {"datum": 0.173}}},
            {"data": {"name": "one"}, "mark": {"type": "rule", "color": "#000000", "strokeWidth": 2},
             "encoding": {"x": {"datum": 4.93, "type": "quantitative", "axis": null}, "x2": {"datum": 5.74}, "y": {"datum": 0.078, "type": "quantitative", "axis": null}, "y2": {"datum": 0.1866}}},
            {"data": {"name": "one"}, "mark": {"type": "point", "shape": "M0,-1L0.55,1L-0.55,1Z", "filled": true, "color": "#000000", "opacity": 1, "size": 90, "angle": -27},
             "encoding": {"x": {"datum": 2.2, "type": "quantitative", "axis": null}, "y": {"datum": 0.173, "type": "quantitative", "axis": null}}},
            {"data": {"name": "one"}, "mark": {"type": "point", "shape": "M0,-1L0.55,1L-0.55,1Z", "filled": true, "color": "#000000", "opacity": 1, "size": 90, "angle": 21},
             "encoding": {"x": {"datum": 5.74, "type": "quantitative", "axis": null}, "y": {"datum": 0.1866, "type": "quantitative", "axis": null}}}
          ]
        }
      ]
    }
  ],
  "spacing": 10,
  "config": {
    "font": "Liberation Sans",
    "view": {"stroke": "#000000", "strokeWidth": 2},
    "axis": {
      "grid": false,
      "tickSize": -6,
      "tickWidth": 1.5,
      "tickColor": "#000000",
      "domainColor": "#000000",
      "domainWidth": 1.5,
      "labelFont": "Liberation Sans",
      "titleFont": "Liberation Sans",
      "labelFontSize": 20,
      "titleFontSize": 20,
      "titleFontWeight": "normal",
      "labelColor": "#1a1a1a",
      "titleColor": "#1a1a1a",
      "labelPadding": 11,
      "labelFlush": false,
      "labelOverlap": false
    }
  }
}
